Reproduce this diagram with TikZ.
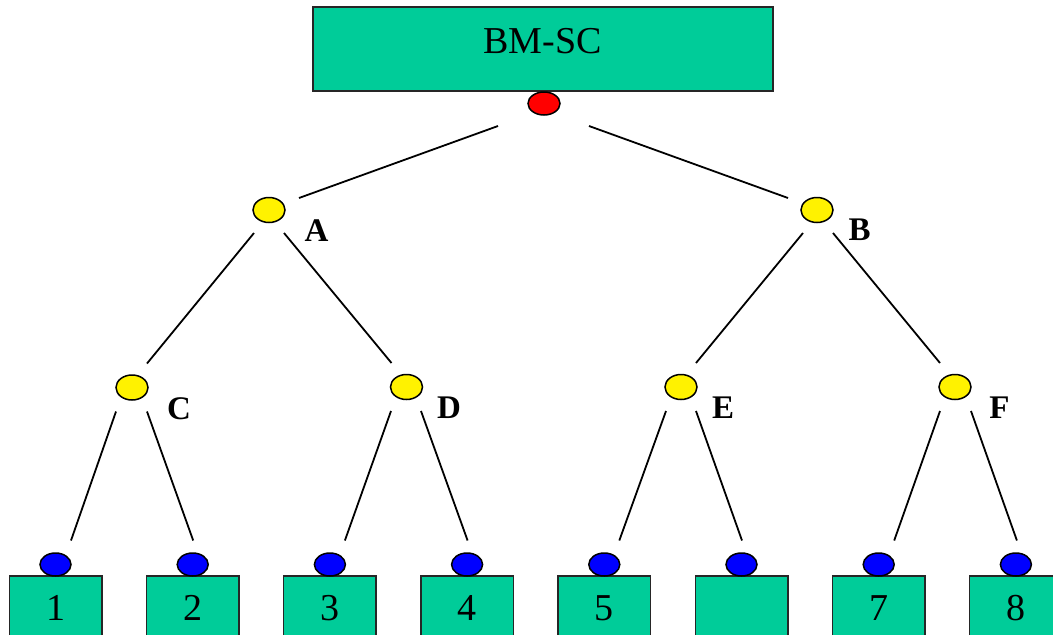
\documentclass[tikz,border=0pt]{standalone}
\usepackage{fontspec}
\setmainfont{Liberation Serif}
\usetikzlibrary{shapes.geometric}
\definecolor{boxgreen}{RGB}{0,204,153}
\tikzset{
  conn/.style={line width=1.8pt, black},
  greenbox/.style={draw=black!85, line width=1.5pt, fill=boxgreen, rectangle, inner sep=0pt},
  leafbox/.style={greenbox, minimum width=92.5pt, minimum height=64pt, font=\fontsize{38}{40}\selectfont},
  dot/.style={ellipse, draw=black, line width=1.5pt, inner sep=0pt},
  rootdot/.style={dot, fill=red, minimum width=32pt, minimum height=23pt},
  ydot/.style={dot, fill=yellow, minimum width=32pt, minimum height=25pt},
  bdot/.style={dot, fill=blue, minimum width=31pt, minimum height=23pt},
  lbl/.style={anchor=base, inner sep=0pt, font=\fontsize{33}{35}\selectfont\bfseries}
}
\begin{document}
\begin{tikzpicture}[x=1pt,y=-1pt]
\useasboundingbox (0,0) rectangle (1053,635);
% top box
\node[greenbox, minimum width=460pt, minimum height=84pt] (top) at (543,49) {};
\node[anchor=base, inner sep=0pt, font=\fontsize{38}{40}\selectfont] (toptext) at (542.5,53) {BM-SC};
% leaf boxes
\node[leafbox] (b1) at (55.5,608) {1};
\node[leafbox] (b2) at (192.7,608) {2};
\node[leafbox] (b3) at (329.9,608) {3};
\node[leafbox] (b4) at (467.1,608) {4};
\node[leafbox] (b5) at (604.3,608) {5};
\node[leafbox] (b6) at (741.5,608) {};
\node[leafbox] (b7) at (878.7,608) {7};
\node[leafbox] (b8) at (1015.9,608) {8};
% dots
\node[rootdot] (R) at (544,103.5) {};
\node[ydot] (A) at (269,210) {};
\node[ydot] (B) at (817,210) {};
\node[ydot] (C) at (132,387.5) {};
\node[ydot] (D) at (406.5,387) {};
\node[ydot] (E) at (681,387) {};
\node[ydot] (F) at (955,387) {};
\node[bdot] (n1) at (55.5,564.5) {};
\node[bdot] (n2) at (192.7,564.5) {};
\node[bdot] (n3) at (329.9,564.5) {};
\node[bdot] (n4) at (467.1,564.5) {};
\node[bdot] (n5) at (604.3,564.5) {};
\node[bdot] (n6) at (741.5,564.5) {};
\node[bdot] (n7) at (878.7,564.5) {};
\node[bdot] (n8) at (1015.9,564.5) {};
% labels
\node[lbl] (lA) at (316.5,241) {A};
\node[lbl] (lB) at (859.5,240) {B};
\node[lbl] (lC) at (179,419) {C};
\node[lbl] (lD) at (449,418) {D};
\node[lbl] (lE) at (723,418) {E};
\node[lbl] (lF) at (999.5,418) {F};
% connectors
\draw[conn] ([shift={(-46,22.5)}]R.center) -- ([shift={(30,-12)}]A.center);
\draw[conn] ([shift={(45,22.5)}]R.center) -- ([shift={(-29,-12)}]B.center);
\draw[conn] ([shift={(-15,23)}]A.center) -- ([shift={(15,-24)}]C.center);
\draw[conn] ([shift={(15,23)}]A.center) -- ([shift={(-15,-24)}]D.center);
\draw[conn] ([shift={(-14,23)}]B.center) -- ([shift={(15,-24)}]E.center);
\draw[conn] ([shift={(16,23)}]B.center) -- ([shift={(-15,-24)}]F.center);
\draw[conn] ([shift={(-16,24)}]C.center) -- ([shift={(15.5,-24)}]n1.center);
\draw[conn] ([shift={(15,24)}]C.center) -- ([shift={(0.5,-24)}]n2.center);
\draw[conn] ([shift={(-15.5,24)}]D.center) -- ([shift={(15,-24)}]n3.center);
\draw[conn] ([shift={(14.5,24)}]D.center) -- ([shift={(0.5,-24)}]n4.center);
\draw[conn] ([shift={(-15,24)}]E.center) -- ([shift={(15,-24)}]n5.center);
\draw[conn] ([shift={(15,24)}]E.center) -- ([shift={(0.5,-24)}]n6.center);
\draw[conn] ([shift={(-15,24)}]F.center) -- ([shift={(15.5,-24)}]n7.center);
\draw[conn] ([shift={(16,24)}]F.center) -- ([shift={(1,-24)}]n8.center);
\end{tikzpicture}
\end{document}
